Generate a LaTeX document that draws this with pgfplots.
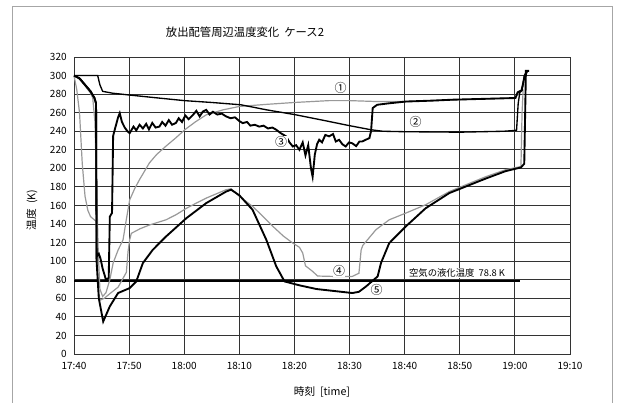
\documentclass[border=0pt]{standalone}
\usepackage{pgfplots}
\pgfplotsset{compat=1.18}
\usepackage{fontspec}
\setmainfont{Noto Sans CJK JP}
\begin{document}
\begin{tikzpicture}
\useasboundingbox (0,0) rectangle (462.75pt,302.25pt);
\draw[gray!70, line width=0.7pt] (9pt,-3pt) -- (9pt,297.5pt) -- (459pt,297.5pt) -- (459pt,-3pt);
\node[font=\fontsize{8.5}{10}\selectfont] at (183.75pt,278.25pt) {放出配管周辺温度変化\ \ ケース2};
\node[font=\fontsize{8}{10}\selectfont] at (241.5pt,8.25pt) {時刻\ \ [time]};
\node[font=\fontsize{8}{10}\selectfont, rotate=90] at (24pt,144.75pt) {温度\ \ (K)};
\begin{axis}[
  at={(55.5pt,36.75pt)}, anchor=south west,
  scale only axis, width=372pt, height=222.75pt,
  xmin=0, xmax=90, ymin=0, ymax=320,
  xtick={0,10,...,90},
  xticklabels={17:40,17:50,18:00,18:10,18:20,18:30,18:40,18:50,19:00,19:10},
  ytick={0,20,...,320},
  /pgf/number format/assume math mode=true,
  tick label style={font=\fontsize{7.5}{9}\selectfont},
  xticklabel style={yshift=-3pt},
  yticklabel style={xshift=-2pt},
  grid=major,
  major grid style={line width=0.7pt, color=black!80},
  axis line style={line width=0.7pt, color=black!80},
  tick style={draw=none},
  clip=false,
]
% 78.8 K line
\addplot[black, line width=1.0pt] coordinates {(0,78.8) (81,78.8)};
% (1) gray
\addplot[gray!80, line width=0.9pt] coordinates {
(0,300) (1,296) (2,289) (3,281) (3.4,276) (3.8,250) (4.1,180) (4.4,110) (4.7,70) (5.2,62) (5.8,66) (6.5,80) (7.1,98) (8.0,112) (8.9,123) (9.5,145) (10.1,166) (11,178) (11.9,188) (13.7,206) (15,215) (16.7,224) (18.5,233) (20.1,241.6) (22,250) (24,257.7) (27,263) (30,266.7) (35,269) (40,271) (46.3,273) (50,273) (55,272) (60,272) (65,273) (70,274) (75,275) (80,276) (80.6,280) (81.2,283) (81.5,290) (81.7,293)};
% (4) gray
\addplot[gray!80, line width=0.9pt] coordinates {
(0,300) (0.5,285) (1,260) (1.5,205) (2,170) (2.5,155) (3,148) (4,143) (4.2,120) (4.4,70) (4.7,58) (5.5,60) (6.5,65) (8,72) (9.5,88) (9.8,110) (10.1,123) (10.4,130) (12,135) (13.7,139) (16.7,144.6) (18.5,150) (20.4,157) (22,162) (24,168) (26,173) (27.6,177) (28.5,178) (30,170) (32.4,159) (34,150) (36,138) (38,127) (39.7,119.5) (40.9,115) (41.5,108.8) (42,95) (43.3,89) (44.2,84) (46.9,83.6) (50.5,83.6) (51.7,87) (52.1,112) (52.4,117) (54.8,134) (57.2,144.6) (60.2,151.8) (63.8,160.8) (68.1,175) (71.1,182.3) (74.7,191) (78.3,198.5) (81.1,202) (81.3,260) (81.5,285)};
% (2) black medium
\addplot[black, line width=1.0pt] coordinates {
(0,300) (4.3,300) (4.7,290) (5.2,283) (7,281) (10.1,279) (15,276) (20,273) (25,271) (30.3,268.5) (35,263) (40,258) (46.3,250.5) (50,246) (53.9,241.6) (56,240) (60,239.5) (70,239) (78,240) (80.3,241) (80.6,270) (80.9,282) (81.3,284) (81.7,300) (82,303)};
% (3) black thick noisy
\addplot[black, line width=1.4pt] coordinates {
(0,300) (1,297) (2,290) (3,283) (3.7,276) (4.0,270) (4.1,105) (4.5,108) (4.8,103) (5.2,92) (5.8,80) (6.3,82) (6.5,148) (6.9,152) (7.1,235) (7.5,244) (8.0,255) (8.3,259.5) (8.7,250) (9.2,244) (9.7,240) (10.1,238) (10.8,245) (11.3,241) (11.9,247) (12.5,243) (13.1,248) (13.6,242) (14.2,249) (14.8,244) (15.5,245) (16,250) (16.6,246) (17.2,252) (17.8,247) (18.5,249) (19,254) (19.6,250) (20.2,257) (20.8,253) (21.6,257.7) (22.2,262) (22.8,256) (23.4,261.3) (24,263) (24.6,258) (25.2,261) (26,258) (26.8,259) (27.6,256) (28.4,254) (29.2,255) (30,251) (30.6,248.8) (31.4,250) (32,246) (32.8,247) (33.6,245) (34.4,246) (35.2,243) (36,244) (36.7,241.6) (37.5,238) (38.5,234.4) (39.1,228) (39.7,223.6) (40.3,225) (40.9,220) (41.5,228) (42,214) (42.5,225) (43,200) (43.3,191) (43.7,215) (44.1,226) (44.5,230.8) (45,228) (45.6,236) (46.3,234.5) (47,237) (47.5,229) (48.1,230.8) (48.7,226) (49.3,223.6) (49.9,228) (50.5,227) (51.2,224) (51.8,229) (52.3,229) (53,231) (53.6,232.6) (53.9,240) (54.2,265) (55,268.5) (57,270) (60.2,272) (65,273) (68.7,274) (75,275) (80.1,275.8) (80.5,282) (81.2,284) (81.8,300) (82.2,304)};
% (5) black thick
\addplot[black, line width=1.4pt] coordinates {
(0,300) (1,297) (2,290) (3,283) (3.7,276) (4.0,270) (4.1,100) (4.5,60) (5.3,35) (6.5,51.3) (8,65.7) (10.1,71) (11.3,78.2) (12.5,98) (14.3,112.3) (16.7,126.6) (20.4,146.4) (24,162.6) (27.6,175) (28.5,177) (30,171) (32.4,155.4) (34.9,123) (36.7,94.4) (38.2,78.2) (40.9,74) (44,70) (47,68) (50.5,65.7) (51.7,67) (53,72.8) (55.1,83.6) (55.7,98) (57.2,119.5) (60.2,137.4) (63.8,157) (68.1,173.4) (71.1,180.5) (74.7,189) (78.3,197) (81.1,201) (81.7,205) (82,305) (82.6,305)};
% annotations
\node[font=\fontsize{9}{10}\selectfont, fill=white, inner sep=0.3pt] at (axis cs:48.4,286.5) {①};
\node[font=\fontsize{9}{10}\selectfont, fill=white, inner sep=0.3pt] at (axis cs:62,249.5) {②};
\node[font=\fontsize{9}{10}\selectfont, fill=white, inner sep=0.3pt] at (axis cs:37.6,228) {③};
\node[font=\fontsize{9}{10}\selectfont, fill=white, inner sep=0.3pt] at (axis cs:48.1,89) {④};
\node[font=\fontsize{9}{10}\selectfont, fill=white, inner sep=0.3pt] at (axis cs:54.9,68.5) {⑤};
\node[font=\fontsize{7}{9}\selectfont, fill=white, inner sep=0.5pt] at (axis cs:69.5,87) {空気の液化温度\ \ 78.8 K};
\end{axis}
\end{tikzpicture}
\end{document}
